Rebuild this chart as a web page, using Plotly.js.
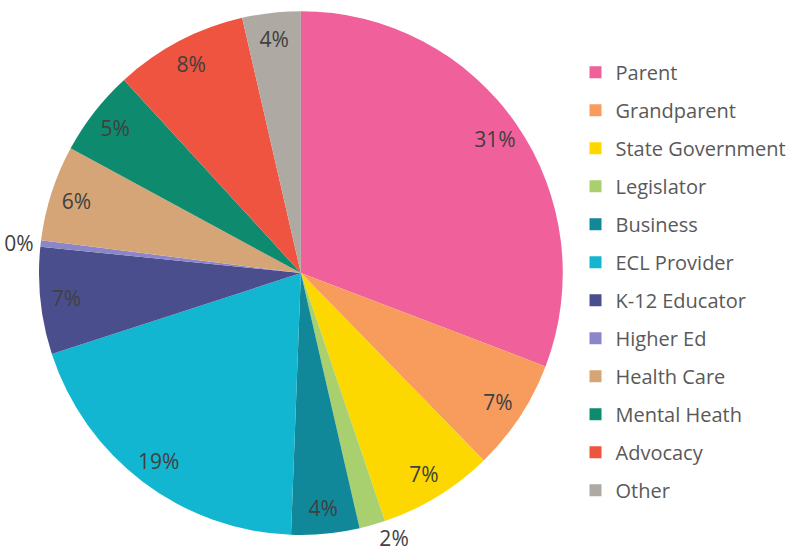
<!DOCTYPE html>
<html>
<head>
<meta charset="utf-8">
<script src="https://cdn.plot.ly/plotly-3.0.1.min.js"></script>
<style>html,body{margin:0;padding:0;background:#fff;}</style>
</head>
<body>
<div id="chart" style="width:796px;height:555px;"></div>
<script>
const categories = ["Parent","Grandparent","State Government","Legislator","Business","ECL Provider","K-12 Educator","Higher Ed","Health Care","Mental Heath","Advocacy","Other"];
const shares = [30.8, 6.9, 7.1, 1.6, 4.2, 19.4, 6.6, 0.4, 5.9, 5.3, 8.2, 3.6];
const colors = ["#F0609B","#F89C5E","#FDD800","#A8D06F","#11889A","#13B6D0","#4B4E8C","#8B86C8","#D5A577","#0E8A6E","#EF5440","#AEA9A3"];
const labelPositions = ["inside","inside","inside","outside","inside","inside","inside","outside","inside","inside","inside","inside"];

const FONT = "Open Sans, Liberation Sans, sans-serif";
const DOMAIN = {x: [0.049, 0.707], y: [0.036, 0.980]};

// filled pie (no text)
const pie = {
  type: "pie",
  labels: categories,
  values: shares,
  sort: false,
  direction: "clockwise",
  rotation: 0,
  marker: {colors: colors, line: {width: 0}},
  textinfo: "none",
  domain: DOMAIN,
  showlegend: false,
  hoverinfo: "label+percent"
};

// transparent ring carrying the percentage labels near the outer edge
const labelRing = {
  type: "pie",
  labels: categories,
  values: shares,
  sort: false,
  direction: "clockwise",
  rotation: 0,
  hole: 0.8,
  marker: {colors: categories.map(() => "rgba(0,0,0,0)"), line: {width: 0}},
  texttemplate: "%{percent:.0%}",
  textposition: labelPositions,
  insidetextorientation: "horizontal",
  textfont: {family: FONT, size: 21, color: "#404040"},
  outsidetextfont: {family: FONT, size: 21, color: "#404040"},
  domain: DOMAIN,
  showlegend: false,
  hoverinfo: "skip"
};

const legendTraces = categories.map((c, i) => ({
  type: "scatter",
  mode: "markers",
  x: [null], y: [null],
  name: c,
  legendgroup: c,
  marker: {symbol: "square", size: 12, color: colors[i]},
  showlegend: true,
  hoverinfo: "skip"
}));

const layout = {
  width: 796, height: 555,
  margin: {l: 0, r: 0, t: 0, b: 0},
  paper_bgcolor: "#ffffff",
  plot_bgcolor: "#ffffff",
  xaxis: {visible: false},
  yaxis: {visible: false},
  showlegend: true,
  legend: {
    x: 0.723, y: 0.905, xanchor: "left", yanchor: "top",
    font: {family: FONT, size: 20, color: "#595959"},
    tracegroupgap: 9,
    itemclick: false
  }
};

Plotly.newPlot("chart", [pie, labelRing].concat(legendTraces), layout, {displayModeBar: false, staticPlot: true});
</script>
</body>
</html>
